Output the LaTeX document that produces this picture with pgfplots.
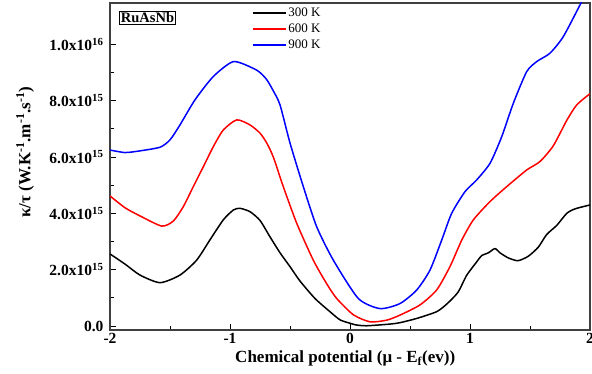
\documentclass[border=0pt]{standalone}
\usepackage{fontspec}
\setmainfont{Liberation Serif}
\usepackage{pgfplots}
\pgfplotsset{compat=1.18}
\pgfplotsset{my legend/.style={legend image code/.code={\draw[##1, line width=1.5pt] (0pt,0pt) -- (33pt,0pt);}}}
\begin{document}
\begin{tikzpicture}
\begin{axis}[
  name=ax,
  scale only axis,
  width=480pt, height=327pt,
  xmin=-2, xmax=2, ymin=-0.14, ymax=11.47,
  xtick={-2,-1,0,1,2}, xticklabels={-2,-1,0,1,2},
  ytick={0,2,4,6,8,10},
  yticklabels={0.0,2.0x10\textsuperscript{15},4.0x10\textsuperscript{15},6.0x10\textsuperscript{15},8.0x10\textsuperscript{15},1.0x10\textsuperscript{16}},
  minor x tick num=1, minor y tick num=1,
  tick align=inside,
  tick pos=left,
  major tick length=6pt, minor tick length=4pt,
  tick style={black, line width=0.9pt},
  axis line style={line width=1.1pt, black!75},
  ticklabel style={font=\fontsize{15.5}{16}\selectfont\bfseries},
  yticklabel style={xshift=-3pt},
  xlabel={Chemical potential (μ - E\textsubscript{f}(ev))},
  ylabel={κ/τ (W.K\textsuperscript{-1}.m\textsuperscript{-1}.s\textsuperscript{-1})},
  label style={font=\fontsize{17}{17}\selectfont\bfseries},
  xlabel style={at={(axis description cs:0.49,-0.088)}, anchor=center},
  ylabel style={at={(axis description cs:-0.177,0.544)}, anchor=center},
  legend style={draw=none, fill=none, at={(axis description cs:0.293,0.995)}, anchor=north west,
    font=\fontsize{13}{13}\selectfont, row sep=2pt, inner sep=1pt},
  legend cell align=left,
  my legend,
]
\addplot[color=black, line width=1.5pt, smooth, tension=0.4] coordinates {
(-2.0,2.56) (-1.875,2.2) (-1.75,1.81) (-1.583,1.54) (-1.417,1.81) (-1.278,2.34)
(-1.167,3.06) (-1.056,3.77) (-0.972,4.12) (-0.917,4.18) (-0.833,4.06) (-0.75,3.75)
(-0.667,3.17) (-0.583,2.6) (-0.5,2.11) (-0.417,1.6)
(-0.292,0.98) (-0.167,0.51) (-0.083,0.22) (0,0.1) (0.05,0.04) (0.139,0.01)
(0.333,0.07) (0.417,0.12) (0.556,0.27) (0.722,0.51) (0.806,0.78) (0.9,1.2)
(0.972,1.8) (1.056,2.28) (1.097,2.5) (1.153,2.6) (1.208,2.75) (1.25,2.6) (1.319,2.42)
(1.4,2.32) (1.486,2.48) (1.569,2.8) (1.639,3.25) (1.722,3.57) (1.806,4.0) (1.875,4.16) (2.0,4.3)
};
\addlegendentry{300 K}
\addplot[color=red, line width=1.5pt, smooth, tension=0.4] coordinates {
(-2.0,4.62) (-1.875,4.2) (-1.75,3.91) (-1.569,3.55) (-1.472,3.73) (-1.389,4.24)
(-1.306,4.95) (-1.222,5.66) (-1.139,6.37) (-1.056,6.96) (-0.944,7.32) (-0.833,7.14)
(-0.75,6.85) (-0.694,6.5) (-0.639,6.0) (-0.556,4.95) (-0.444,3.65) (-0.306,2.34) (-0.194,1.5)
(-0.111,0.98) (0.028,0.4) (0.167,0.15) (0.306,0.21) (0.417,0.39) (0.583,0.75)
(0.722,1.28) (0.833,2.11) (0.931,3.05) (1.028,3.77) (1.167,4.42) (1.306,4.95)
(1.472,5.54) (1.583,5.84) (1.694,6.4) (1.806,7.3) (1.889,7.85) (2.0,8.25)
};
\addlegendentry{600 K}
\addplot[color=blue, line width=1.5pt, smooth, tension=0.4] coordinates {
(-2.0,6.25) (-1.875,6.16) (-1.75,6.22) (-1.583,6.35) (-1.5,6.61) (-1.417,7.14)
(-1.292,8.03) (-1.139,8.86) (-0.972,9.39) (-0.806,9.15) (-0.75,9.0) (-0.694,8.75)
(-0.639,8.35) (-0.583,7.85) (-0.5,6.5) (-0.389,4.95) (-0.278,3.53) (-0.139,2.34) (0.069,0.98)
(0.25,0.62) (0.417,0.80) (0.556,1.28) (0.667,1.99) (0.764,3.05) (0.847,4.0)
(0.958,4.77) (1.056,5.19) (1.167,5.78) (1.264,6.72) (1.361,7.91) (1.472,9.03)
(1.556,9.39) (1.667,9.69) (1.778,10.28) (1.931,11.52) (2.0,12.1)
};
\addlegendentry{900 K}
\end{axis}
\node[draw, line width=0.8pt, inner sep=1.5pt, anchor=north west, fill=white,
  font=\bfseries] at ([shift={(9pt,-8pt)}]ax.north west) {\fontsize{14.5}{15}\selectfont RuAsNb};
\pgfresetboundingbox
\path[use as bounding box] ([shift={(-110pt,-44pt)}]ax.south west) rectangle ([shift={(2pt,3pt)}]ax.north east);
\end{tikzpicture}
\end{document}
